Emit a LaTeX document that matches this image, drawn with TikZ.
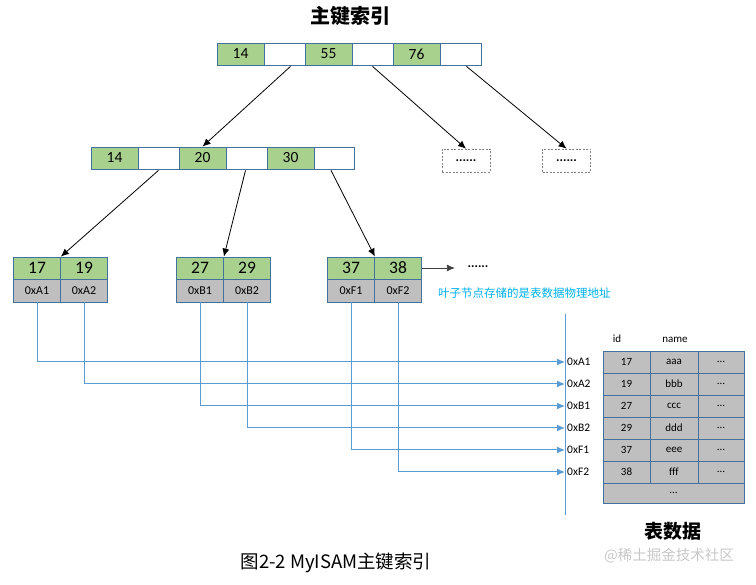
\documentclass[tikz,border=0pt]{standalone}
\usepackage{fontspec}
\setmainfont{Carlito}
\newfontfamily\cjk{Noto Sans CJK SC}
\usetikzlibrary{arrows.meta,calc}
\definecolor{cgreen}{HTML}{A9D18E}
\definecolor{cgray}{HTML}{BFBFBF}
\definecolor{cbord}{HTML}{41719C}
\definecolor{cblue}{HTML}{5B9BD5}
\definecolor{ctxt}{HTML}{00B0F0}
\tikzset{
  cell/.style={draw=cbord, line width=0.8pt, minimum height=22pt, inner sep=0pt, font=\fontsize{15.5}{15.5}\selectfont},
  gcell/.style={cell, fill=cgreen},
  wcell/.style={cell, fill=white},
  lcell/.style={draw=cbord, line width=0.8pt, fill=cgreen, minimum width=47pt, minimum height=22pt, inner sep=0pt, font=\fontsize{17.5}{17.5}\selectfont},
  acell/.style={draw=cbord, line width=0.8pt, fill=cgray, minimum width=47pt, minimum height=23pt, inner sep=0pt, font=\fontsize{12}{12}\selectfont},
  tcell/.style={draw=cbord, line width=0.8pt, fill=cgray, minimum height=22pt, inner sep=0pt, font=\fontsize{11}{11}\selectfont},
  dbox/.style={draw=gray, dashed, dash pattern=on 2pt off 1.5pt, line width=0.6pt, minimum width=48pt, minimum height=23pt, inner sep=0pt, font=\bfseries\fontsize{13}{13}\selectfont},
  tarrow/.style={-{Latex[length=8pt,width=7pt]}, line width=0.8pt, black},
  barrow/.style={-{Latex[length=8pt,width=7pt]}, line width=1pt, cblue},
  addr/.style={anchor=west, inner sep=2pt, font=\fontsize{11.5}{11.5}\selectfont},
}
\begin{document}
\begin{tikzpicture}[x=1pt,y=-1pt]
\useasboundingbox (0,0) rectangle (756,585);
% title
\node (title) at (350,16) {\cjk\bfseries\fontsize{20}{20}\selectfont 主键索引};
% top node
\node[gcell, minimum width=47pt] (t1) at (240.5,54) {14};
\node[wcell, minimum width=41pt] (t1b) at (284.5,54) {};
\node[gcell, minimum width=47pt] (t2) at (328.5,54) {55};
\node[wcell, minimum width=41pt] (t2b) at (372.5,54) {};
\node[gcell, minimum width=47pt] (t3) at (416.5,54) {76};
\node[wcell, minimum width=41pt] (t3b) at (460.5,54) {};
% second level
\node[gcell, minimum width=47pt] (m1) at (114.5,158) {14};
\node[wcell, minimum width=41pt] (m1b) at (158.5,158) {};
\node[gcell, minimum width=47pt] (m2) at (202.5,158) {20};
\node[wcell, minimum width=41pt] (m2b) at (246.5,158) {};
\node[gcell, minimum width=47pt] (m3) at (290.5,158) {30};
\node[wcell, minimum width=40pt] (m3b) at (334,158) {};
% dashed boxes
\node[dbox] (d1) at (466,160.5) {......};
\node[dbox] (d2) at (566.5,160.5) {......};
% leaves
\node[lcell] (l1a) at (37,268) {17};
\node[lcell] (l1b) at (84,268) {19};
\node[acell] (l1c) at (37,290.5) {0xA1};
\node[acell] (l1d) at (84,290.5) {0xA2};
\node[lcell] (l2a) at (200,268) {27};
\node[lcell] (l2b) at (247,268) {29};
\node[acell] (l2c) at (200,290.5) {0xB1};
\node[acell] (l2d) at (247,290.5) {0xB2};
\node[lcell] (l3a) at (351,268) {37};
\node[lcell] (l3b) at (398,268) {38};
\node[acell] (l3c) at (351,290.5) {0xF1};
\node[acell] (l3d) at (398,290.5) {0xF2};
% tree arrows
\draw[tarrow] ($(t1b.south)+(6,1)$) -- (m2.north);
\draw[tarrow] ($(t2b.south)+(0,1)$) -- (d1.north);
\draw[tarrow] ($(t3b.south)+(6,1)$) -- (d2.north);
\draw[tarrow] ($(m1b.south)+(0,1)$) -- (l1a.north east);
\draw[tarrow] ($(m2b.south)+(-1,1)$) -- (l2a.north east);
\draw[tarrow] ($(m3b.south)+(-3,1)$) -- (l3a.north east);
% leaf next
\node[font=\bfseries\fontsize{13}{13}\selectfont, inner sep=1pt] (ldots) at (478,267) {......};
\draw[-{Latex[length=8pt,width=7pt]}, line width=0.8pt, black!75] (l3b.east) -- ++(33,0) coordinate (lend);
\node[anchor=west, text=ctxt, inner sep=0pt] (note) at (438,293.5) {\cjk\fontsize{11.5}{11.5}\selectfont 叶子节点存储的是表数据物理地址};
% vertical line
\coordinate (vtop) at (565,314);
\coordinate (vbot) at (565,515);
\draw[cblue, line width=1pt] (vtop) -- (vbot);
\node[addr] (a1) at (565,362) {0xA1};
\node[addr] (a2) at (565,384) {0xA2};
\node[addr] (a3) at (565,406) {0xB1};
\node[addr] (a4) at (565,428) {0xB2};
\node[addr] (a5) at (565,450) {0xF1};
\node[addr] (a6) at (565,472) {0xF2};
\draw[barrow] (l1c.south) |- (a1.west);
\draw[barrow] (l1d.south) |- (a2.west);
\draw[barrow] (l2c.south) |- (a3.west);
\draw[barrow] (l2d.south) |- (a4.west);
\draw[barrow] (l3c.south) |- (a5.west);
\draw[barrow] (l3d.south) |- (a6.west);
% table
\node[font=\fontsize{11}{11}\selectfont] (hid) at (617,339) {id};
\node[font=\fontsize{11}{11}\selectfont] (hname) at (675,340) {name};
\foreach \r/\i/\n [count=\k] in {0/17/aaa,1/19/bbb,2/27/ccc,3/29/ddd,4/37/eee,5/38/fff}{
  \node[tcell, minimum width=47pt] (c\k a) at (626.5,{362+22*\r}) {\i};
  \node[tcell, minimum width=48pt] (c\k b) at (674,{362+22*\r}) {\n};
  \node[tcell, minimum width=46pt] (c\k c) at (721,{362+22*\r}) {...};
}
\node[tcell, minimum width=141pt, minimum height=20pt] (clast) at (673.5,493) {...};
\node (tabtitle) at (673,531) {\cjk\bfseries\fontsize{19}{19}\selectfont 表数据};
\node[text=black!22] (wm) at (669,556) {\cjk\fontsize{14.5}{14.5}\selectfont @稀土掘金技术社区};
\node (caption) at (336,563) {\cjk\fontsize{18.5}{18.5}\selectfont 图2-2 MyISAM主键索引};
\end{tikzpicture}
\end{document}
